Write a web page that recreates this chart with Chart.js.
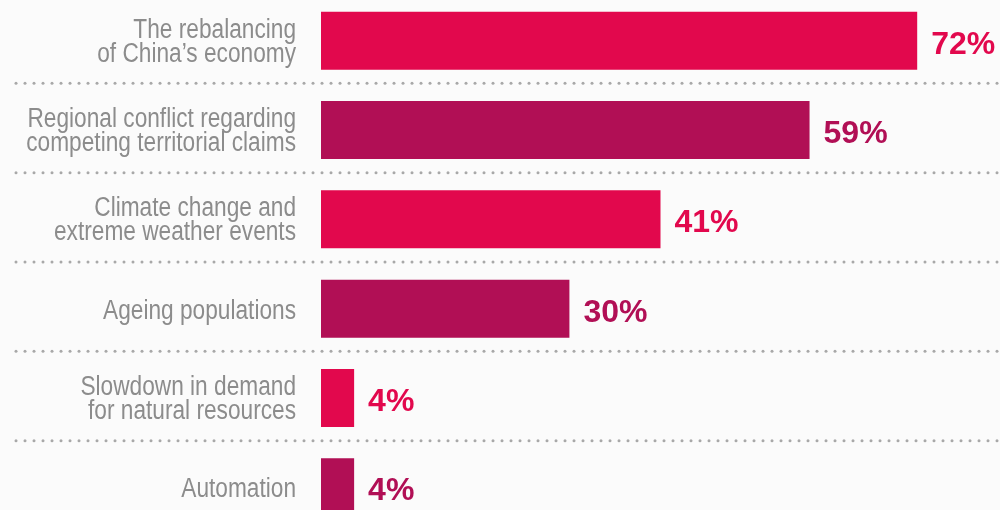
<!DOCTYPE html>
<html>
<head>
<meta charset="utf-8">
<script src="https://cdn.jsdelivr.net/npm/chart.js@4/dist/chart.umd.min.js"></script>
<style>
  html, body { margin: 0; padding: 0; background: #fbfbfb; overflow: hidden; }
  #chart { position: absolute; left: 0; top: -4px; }
</style>
</head>
<body>
<canvas id="chart" width="1000" height="536"></canvas>
<script>
// categories and values
var labels = [
  ['The rebalancing', 'of China\u2019s economy'],
  ['Regional conflict regarding', 'competing territorial claims'],
  ['Climate change and', 'extreme weather events'],
  ['Ageing populations'],
  ['Slowdown in demand', 'for natural resources'],
  ['Automation']
];
var values = [72, 59, 41, 30, 4, 4];
var barColors = ['#e2084d', '#b10f55', '#e2084d', '#b10f55', '#e2084d', '#b10f55'];

// dotted separators between rows
var dotLines = {
  id: 'dotLines',
  beforeDatasetsDraw: function(chart){
    var y = chart.scales.y
    var ctx = chart.ctx
    ctx.save()
    ctx.fillStyle = '#a8a8a8'
    for(var i=0; i<labels.length-1; i++){
      var yy = (y.getPixelForTick(i) + y.getPixelForTick(i+1))/2 - 2
      for(var x=16; x<1000; x+=9){
        ctx.beginPath()
        ctx.arc(x, yy, 1.5, 0, Math.PI*2)
        ctx.fill()
      }
    }
    ctx.restore()
  }
}

// category names, squeezed a bit to look like the condensed face
var catLabels = {
  id: 'catLabels',
  afterDatasetsDraw: function(chart){
    var y = chart.scales.y
    var ctx = chart.ctx
    var right = chart.chartArea.left - 25
    ctx.save()
    ctx.fillStyle = '#8c8c8c'
    ctx.font = '27px "Liberation Sans", Arial, sans-serif'
    ctx.textAlign = 'right'
    ctx.textBaseline = 'alphabetic'
    labels.forEach(function(lines, i){
      var cy = y.getPixelForTick(i)
      var base = lines.length == 1 ? [cy + 10] : [cy - 3, cy + 21]
      lines.forEach(function(t, j){
        ctx.save()
        ctx.translate(right, base[j])
        ctx.scale(0.84, 1)
        ctx.fillText(t, 0, 0)
        ctx.restore()
      })
    })
    ctx.restore()
  }
}

// percent labels at the end of each bar
var valueLabels = {
  id: 'valueLabels',
  afterDatasetsDraw: function(chart){
    var ctx = chart.ctx
    var meta = chart.getDatasetMeta(0)
    ctx.save()
    ctx.font = 'bold 32px "Liberation Sans", Arial, sans-serif'
    ctx.textAlign = 'left'
    ctx.textBaseline = 'alphabetic'
    meta.data.forEach(function(bar, i){
      ctx.fillStyle = barColors[i]
      ctx.fillText(values[i] + '%', bar.x + 14, bar.y + 13)
    })
    ctx.restore()
  }
}

var ctx = document.getElementById('chart').getContext('2d');
var chart = new Chart(ctx, {
  type: 'bar',
  data: {
    labels: labels.map(function(l){ return l.join(' ') }),
    datasets: [{
      data: values,
      backgroundColor: barColors,
      borderWidth: 0,
      barPercentage: 0.65,
      categoryPercentage: 1
    }]
  },
  options: {
    indexAxis: 'y',
    responsive: false,
    animation: false,
    layout: { padding: 0 },
    plugins: {
      legend: { display: false },
      tooltip: { enabled: false }
    },
    scales: {
      x: {
        display: false,
        min: 0,
        max: 82
      },
      y: {
        grid: { display: false, drawTicks: false },
        border: { display: false },
        afterFit: function(scale){ scale.width = 321 },
        ticks: { display: false }
      }
    }
  },
  plugins: [dotLines, catLabels, valueLabels]
});
</script>
</body>
</html>
